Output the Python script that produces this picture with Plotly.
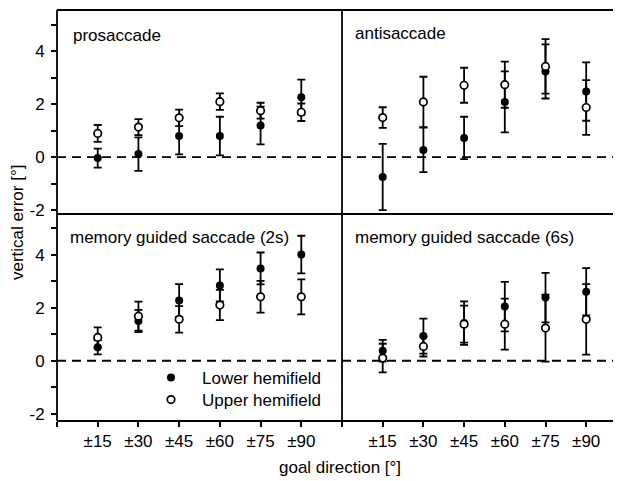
import plotly.graph_objects as go
from plotly.subplots import make_subplots

categories = ["±15", "±30", "±45", "±60", "±75", "±90"]
xpos = [1, 2, 3, 4, 5, 6]

panel_titles = ["prosaccade", "antisaccade",
                "memory guided saccade (2s)", "memory guided saccade (6s)"]

# prosaccade
pro_lower = [-0.04, 0.11, 0.79, 0.79, 1.19, 2.26]
pro_lower_err = [0.36, 0.63, 0.69, 0.73, 0.71, 0.66]
pro_upper = [0.89, 1.13, 1.48, 2.09, 1.75, 1.69]
pro_upper_err = [0.32, 0.30, 0.31, 0.31, 0.30, 0.33]

# antisaccade
anti_lower = [-0.75, 0.27, 0.72, 2.08, 3.23, 2.47]
anti_lower_err = [1.25, 0.84, 0.80, 1.15, 1.02, 1.10]
anti_upper = [1.49, 2.08, 2.71, 2.73, 3.42, 1.87]
anti_upper_err = [0.39, 0.95, 0.66, 0.87, 1.03, 1.03]

# memory guided saccade (2s)
mem2_lower = [0.51, 1.50, 2.27, 2.84, 3.48, 4.00]
mem2_lower_err = [0.27, 0.42, 0.62, 0.60, 0.60, 0.71]
mem2_upper = [0.88, 1.68, 1.56, 2.10, 2.41, 2.41]
mem2_upper_err = [0.38, 0.55, 0.50, 0.57, 0.60, 0.66]

# memory guided saccade (6s)
mem6_lower = [0.38, 0.93, 1.42, 2.04, 2.38, 2.60]
mem6_lower_err = [0.41, 0.66, 0.82, 0.93, 0.93, 0.89]
mem6_upper = [0.10, 0.54, 1.38, 1.38, 1.23, 1.56]
mem6_upper_err = [0.54, 0.38, 0.70, 0.96, 1.26, 1.33]

y_tickvals = [-2, -1, 0, 1, 2, 3, 4, 5]
y_ticktext = ["-2", "", "0", "", "2", "", "4", ""]

FONT = "Liberation Sans, Arial, Helvetica, sans-serif"
OFF = 8  # page body margin
W, H = 621 - OFF, 481 - OFF
ML, MR, MT, MB = 57 - OFF, 0, 10 - OFF, H - (421 - OFF)
plot_w = W - ML - MR
plot_h = H - MT - MB


def px_x(px):
    return (px - OFF - ML) / plot_w


def px_y(py):
    return (H - MB - (py - OFF)) / plot_h


xdiv = px_x(342)
ydiv = px_y(214)

fig = make_subplots(rows=2, cols=2, horizontal_spacing=0, vertical_spacing=0)

panels = [
    (1, 1, pro_lower, pro_lower_err, pro_upper, pro_upper_err),
    (1, 2, anti_lower, anti_lower_err, anti_upper, anti_upper_err),
    (2, 1, mem2_lower, mem2_lower_err, mem2_upper, mem2_upper_err),
    (2, 2, mem6_lower, mem6_lower_err, mem6_upper, mem6_upper_err),
]

for r, c, lo, lo_e, up, up_e in panels:
    legend_on = (r == 2 and c == 1)
    fig.add_trace(go.Scatter(
        x=xpos, y=lo, mode="markers", name="Lower hemifield",
        showlegend=legend_on, legend="legend",
        marker=dict(color="black", size=8, line=dict(width=0)),
        error_y=dict(type="data", array=lo_e, visible=True,
                     color="black", thickness=1.8, width=4),
    ), row=r, col=c)
    fig.add_trace(go.Scatter(
        x=xpos, y=up, mode="markers", name="Upper hemifield",
        showlegend=legend_on, legend="legend2",
        marker=dict(color="white", size=7.5, line=dict(color="black", width=1.7)),
        error_y=dict(type="data", array=up_e, visible=True,
                     color="black", thickness=1.8, width=4),
    ), row=r, col=c)

right_span = (621 - 342) / 40.7

ax_cfg = {
    1: dict(xdom=[0, xdiv], ydom=[ydiv, 1], xr=[0, 7], yr=[-2.15, 5.55], bottom=False, left=True),
    2: dict(xdom=[xdiv, 1], ydom=[ydiv, 1], xr=[0, right_span], yr=[-2.15, 5.55], bottom=False, left=False),
    3: dict(xdom=[0, xdiv], ydom=[0, ydiv], xr=[0, 7], yr=[-2.27, 5.53], bottom=True, left=True),
    4: dict(xdom=[xdiv, 1], ydom=[0, ydiv], xr=[0, right_span], yr=[-2.27, 5.53], bottom=True, left=False),
}
for i, cfg in ax_cfg.items():
    sfx = "" if i == 1 else str(i)
    fig.layout["xaxis" + sfx].update(
        domain=cfg["xdom"], range=cfg["xr"], showgrid=False, zeroline=False,
        showline=False,
        tickmode="array", tickvals=[0] + xpos + [7], ticktext=[""] + categories + [""],
        ticks="outside" if cfg["bottom"] else "", ticklen=5, tickwidth=1.6,
        tickcolor="black", showticklabels=cfg["bottom"],
        tickfont=dict(family=FONT, size=17, color="black"),
    )
    fig.layout["yaxis" + sfx].update(
        domain=cfg["ydom"], range=cfg["yr"], showgrid=False, zeroline=False,
        showline=False,
        tickmode="array", tickvals=y_tickvals, ticktext=y_ticktext,
        ticks="outside" if cfg["left"] else "", ticklen=5, tickwidth=1.6,
        tickcolor="black", showticklabels=cfg["left"], ticklabelstandoff=3,
        tickfont=dict(family=FONT, size=17, color="black"),
    )

shapes = []
for sfx in ["", "2", "3", "4"]:
    shapes.append(dict(type="line", xref=("x" + sfx + " domain"), yref=("y" + sfx),
                       x0=0, x1=1, y0=0, y1=0,
                       line=dict(color="black", width=1.8, dash="9px,6px")))
frame = dict(color="black", width=1.8)
shapes += [
    dict(type="line", xref="paper", yref="paper", x0=0, x1=1, y0=1, y1=1, line=frame),
    dict(type="line", xref="paper", yref="paper", x0=0, x1=1, y0=0, y1=0, line=frame),
    dict(type="line", xref="paper", yref="paper", x0=0, x1=1, y0=ydiv, y1=ydiv, line=frame),
    dict(type="line", xref="paper", yref="paper", x0=0, x1=0, y0=0, y1=1, line=frame),
    dict(type="line", xref="paper", yref="paper", x0=xdiv, x1=xdiv, y0=0, y1=1, line=frame),
]

title_pos = [(71, 35), (353, 33), (68, 237), (353, 237)]
annotations = []
for t, (tx, ty) in zip(panel_titles, title_pos):
    annotations.append(dict(text=t, xref="paper", yref="paper", x=px_x(tx), y=px_y(ty),
                            xanchor="left", yanchor="middle", showarrow=False,
                            font=dict(family=FONT, size=17, color="black")))
annotations.append(dict(text="vertical error [°]", xref="paper", yref="paper",
                        x=px_x(18), y=px_y(223), textangle=-90,
                        xanchor="center", yanchor="middle", showarrow=False,
                        font=dict(family=FONT, size=17, color="black")))
annotations.append(dict(text="goal direction [°]", xref="paper", yref="paper",
                        x=px_x(340), y=px_y(467),
                        xanchor="center", yanchor="middle", showarrow=False,
                        font=dict(family=FONT, size=17, color="black")))

leg_common = dict(xanchor="left", yanchor="top", bgcolor="rgba(0,0,0,0)", borderwidth=0,
                  font=dict(family=FONT, size=17, color="black"), itemwidth=52)

fig.update_layout(
    width=W, height=H,
    margin=dict(l=ML, r=MR, t=MT, b=MB),
    paper_bgcolor="white", plot_bgcolor="white",
    shapes=shapes, annotations=annotations,
    showlegend=True,
    legend=dict(x=px_x(140), y=px_y(360), **leg_common),
    legend2=dict(x=px_x(140), y=px_y(382), **leg_common),
    font=dict(family=FONT, size=17, color="black"),
)

fig.write_html("out.html")
